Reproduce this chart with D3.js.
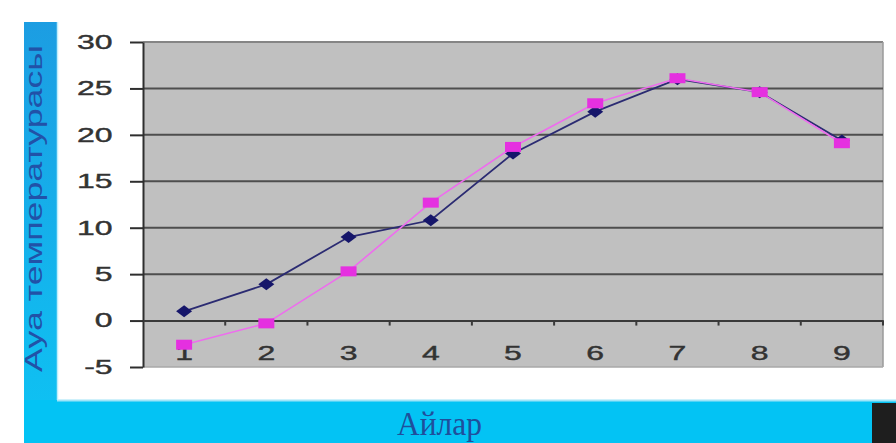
<!DOCTYPE html>
<html>
<head>
<meta charset="utf-8">
<script src="https://cdn.jsdelivr.net/npm/d3@7/dist/d3.min.js"></script>
<style>
  html, body { margin: 0; padding: 0; background: #ffffff; }
  svg { display: block; }
</style>
</head>
<body>
<svg id="chart" width="896" height="443"></svg>
<script>
// Months and monthly air temperatures for two series
const months = [1, 2, 3, 4, 5, 6, 7, 8, 9];
const seriesBlue = [1, 3.9, 9, 10.8, 18, 22.5, 26, 24.6, 19.4];
const seriesPink = [-2.6, -0.3, 5.3, 12.7, 18.7, 23.4, 26.1, 24.6, 19.1];
const yTicks = [-5, 0, 5, 10, 15, 20, 25, 30];
const yTitle = "Ауа температурасы";
const xTitle = "Айлар";

const svg = d3.select("#chart");
const W = 896, H = 443;

// page background and coloured frame
svg.append("rect").attr("width", W).attr("height", H).attr("fill", "#ffffff");

const defs = svg.append("defs");
const grad = defs.append("linearGradient").attr("id", "stripGrad")
  .attr("x1", 0).attr("y1", 0).attr("x2", 0).attr("y2", 1);
grad.append("stop").attr("offset", "0%").attr("stop-color", "#1c9de2");
grad.append("stop").attr("offset", "100%").attr("stop-color", "#0fc0f2");

svg.append("rect").attr("x", 24).attr("y", 22).attr("width", 33).attr("height", 380)
  .attr("fill", "url(#stripGrad)");
svg.append("rect").attr("x", 24).attr("y", 400).attr("width", 872).attr("height", 43)
  .attr("fill", "#03c3f4");
svg.append("line").attr("x1", 57).attr("x2", W).attr("y1", 400.5).attr("y2", 400.5)
  .attr("stroke", "#9fe4f8").attr("stroke-width", 2);
svg.append("line").attr("x1", 57.5).attr("x2", 57.5).attr("y1", 22).attr("y2", 400)
  .attr("stroke", "#bfeefc").attr("stroke-width", 1.5);
svg.append("rect").attr("x", 872).attr("y", 403).attr("width", 24).attr("height", 40)
  .attr("fill", "#1e1e1e");

// plot area
const plot = { left: 143, right: 883, top: 42, bottom: 367 };

const x = d3.scaleBand().domain(months).range([plot.left, plot.right]).padding(0);
const y = d3.scaleLinear().domain([-5, 30]).range([plot.bottom, plot.top]);

svg.append("rect")
  .attr("x", plot.left).attr("y", plot.top)
  .attr("width", plot.right - plot.left).attr("height", plot.bottom - plot.top)
  .attr("fill", "#c0c0c0");

// border of the plot area
svg.append("line").attr("x1", plot.left).attr("x2", plot.right)
  .attr("y1", plot.top).attr("y2", plot.top)
  .attr("stroke", "#858585").attr("stroke-width", 2);
svg.append("line").attr("x1", plot.right).attr("x2", plot.right)
  .attr("y1", plot.top).attr("y2", plot.bottom)
  .attr("stroke", "#9a9a9a").attr("stroke-width", 1.5);
svg.append("line").attr("x1", plot.left).attr("x2", plot.right)
  .attr("y1", plot.bottom).attr("y2", plot.bottom)
  .attr("stroke", "#a8a8a8").attr("stroke-width", 1.5);

// horizontal gridlines
svg.append("g").selectAll("line")
  .data(yTicks.filter(v => v > 0 && v < 30))
  .join("line")
  .attr("x1", plot.left).attr("x2", plot.right)
  .attr("y1", d => y(d)).attr("y2", d => y(d))
  .attr("stroke", "#4e4e4e").attr("stroke-width", 2);

const tickFont = "'Liberation Sans', Arial, sans-serif";

// y axis
const yAxis = svg.append("g")
  .attr("transform", `translate(${plot.left},0)`)
  .call(d3.axisLeft(y).tickValues(yTicks).tickFormat(d => String(d))
    .tickSize(13).tickSizeOuter(0));
yAxis.select(".domain").attr("stroke", "#2e2e2e").attr("stroke-width", 2);
yAxis.selectAll(".tick line").attr("stroke", "#2e2e2e").attr("stroke-width", 2);
yAxis.selectAll(".tick text")
  .attr("x", -19)
  .attr("transform", "scale(1.6,1)")
  .attr("fill", "#333333")
  .attr("stroke", "#333333").attr("stroke-width", 0.4)
  .style("font-family", tickFont)
  .style("font-size", "20px");

// x axis along zero
const xAxis = svg.append("g")
  .attr("transform", `translate(0,${y(0)})`)
  .call(d3.axisBottom(x).tickSize(0).tickPadding(25).tickSizeOuter(0));
xAxis.select(".domain").attr("stroke", "#3a3a3a").attr("stroke-width", 2);
xAxis.selectAll(".tick text")
  .attr("transform", "scale(1.6,1)")
  .attr("fill", "#333333")
  .attr("stroke", "#333333").attr("stroke-width", 0.4)
  .style("font-family", tickFont)
  .style("font-size", "20px");

// tick marks between months
xAxis.append("g").selectAll("line")
  .data(months)
  .join("line")
  .attr("x1", d => x(d) + x.bandwidth()).attr("x2", d => x(d) + x.bandwidth())
  .attr("y1", 0).attr("y2", 5)
  .attr("stroke", "#3a3a3a").attr("stroke-width", 2);

const cx = d => x(d) + x.bandwidth() / 2;

// blue series: line and diamond markers
const line = d3.line().x(d => cx(d[0])).y(d => y(d[1]));
const blueData = months.map((m, i) => [m, seriesBlue[i]]);
const pinkData = months.map((m, i) => [m, seriesPink[i]]);

svg.append("path").datum(blueData)
  .attr("d", line).attr("fill", "none")
  .attr("stroke", "#2b2b72").attr("stroke-width", 1.8);
svg.append("g").selectAll("path")
  .data(blueData)
  .join("path")
  .attr("d", d => {
    const px = cx(d[0]), py = y(d[1]);
    return `M${px - 8},${py} L${px},${py - 6} L${px + 8},${py} L${px},${py + 6} Z`;
  })
  .attr("fill", "#16166a");

// pink series: line and square markers
svg.append("path").datum(pinkData)
  .attr("d", line).attr("fill", "none")
  .attr("stroke", "#ee6cee").attr("stroke-width", 1.6);
svg.append("g").selectAll("rect")
  .data(pinkData)
  .join("rect")
  .attr("x", d => cx(d[0]) - 8).attr("y", d => y(d[1]) - 5)
  .attr("width", 16).attr("height", 10)
  .attr("fill", "#e530e0");

// axis titles
svg.append("text")
  .attr("transform", `translate(42,${(45 + 372) / 2}) rotate(-90)`)
  .attr("text-anchor", "middle")
  .attr("textLength", 327).attr("lengthAdjust", "spacingAndGlyphs")
  .attr("fill", "#2152a8")
  .style("font-family", "'Liberation Sans', Arial, sans-serif")
  .style("font-size", "23px")
  .text(yTitle);

svg.append("text")
  .attr("x", 439.5).attr("y", 435)
  .attr("text-anchor", "middle")
  .attr("textLength", 85).attr("lengthAdjust", "spacingAndGlyphs")
  .attr("fill", "#1f4f9c")
  .style("font-family", "'Liberation Serif', 'Times New Roman', serif")
  .style("font-size", "34px")
  .text(xTitle);
</script>
</body>
</html>
